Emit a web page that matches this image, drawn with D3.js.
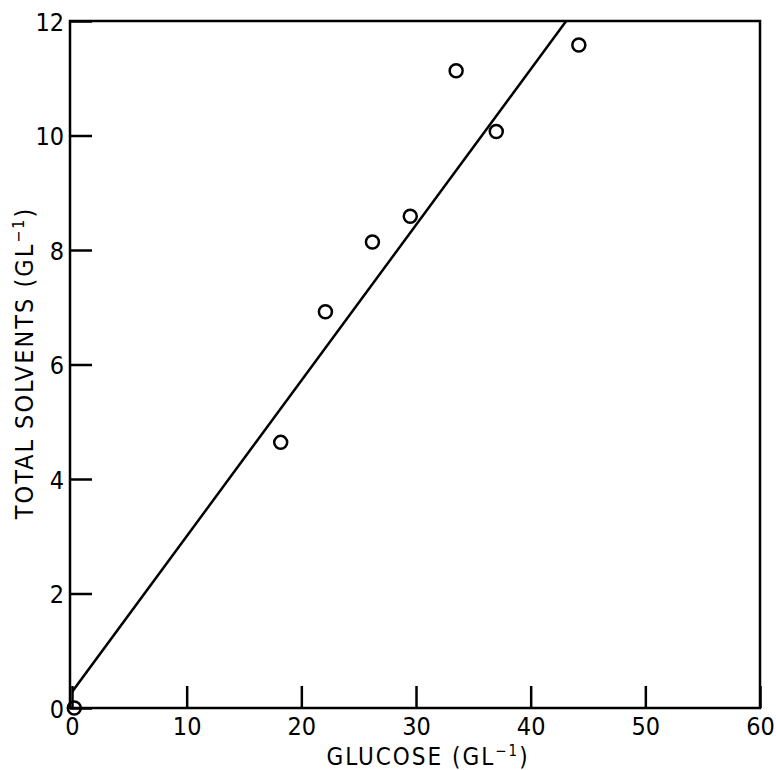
<!DOCTYPE html>
<html>
<head>
<meta charset="utf-8">
<script src="https://cdn.jsdelivr.net/npm/d3@7"></script>
<style>
  body { margin: 0; background: #fff; }
  svg text { font-family: "Liberation Sans Narrow", "DejaVu Sans Condensed", sans-serif; fill: #000; }
</style>
</head>
<body>
<div id="chart"></div>
<script>
// data
let glucose = [0.2, 18.2, 22.1, 26.2, 29.5, 33.5, 37.0, 44.2];
let solvents = [0.0, 4.64, 6.92, 8.14, 8.59, 11.13, 10.07, 11.58];
let fitLine = [[0, 0.28], [43.1, 12]];
let xTicks = [0, 10, 20, 30, 40, 50, 60];
let yTicks = [0, 2, 4, 6, 8, 10, 12];

let width = 776, height = 770;
let mLeft = 72, mRight = 760, mTop = 21, mBottom = 708;

let xScale = d3.scaleLinear().domain([0, 60]).range([mLeft, mRight]);
let yScale = d3.scaleLinear().domain([0, 12]).range([mBottom, mTop]);

let svg = d3.select("#chart")
    .append("svg")
    .attr("width", width)
    .attr("height", height);

// frame
svg.append("rect")
    .attr("x", mLeft - 2)
    .attr("y", mTop)
    .attr("width", mRight - mLeft + 2)
    .attr("height", mBottom - mTop)
    .attr("fill", "none")
    .attr("stroke", "#000")
    .attr("stroke-width", 2.5);

let xAxis = d3.axisBottom(xScale).tickValues(xTicks).tickSize(-22).tickFormat(d3.format("d"));
let yAxis = d3.axisLeft(yScale).tickValues(yTicks).tickSize(-22).tickFormat(d3.format("d"));

let gx = svg.append("g")
    .attr("transform", "translate(0," + mBottom + ")")
    .call(xAxis);
gx.select(".domain").remove();
gx.selectAll("line").attr("stroke-width", 2.5);
gx.selectAll("text")
    .attr("font-size", "25px")
    .attr("dy", "0")
    .attr("y", 27);

let gy = svg.append("g")
    .attr("transform", "translate(" + (mLeft - 2) + ",0)")
    .call(yAxis);
gy.select(".domain").remove();
gy.selectAll("line").attr("stroke-width", 2.5);
gy.selectAll("text")
    .attr("font-size", "25px")
    .attr("x", -6)
    .attr("dy", "0.36em");

// regression line, clipped to frame
svg.append("clipPath").attr("id", "clip")
    .append("rect")
    .attr("x", mLeft).attr("y", mTop)
    .attr("width", mRight - mLeft).attr("height", mBottom - mTop);

svg.append("path")
    .datum(fitLine)
    .attr("clip-path", "url(#clip)")
    .attr("d", d3.line().x(d => xScale(d[0])).y(d => yScale(d[1])))
    .attr("fill", "none")
    .attr("stroke", "#000")
    .attr("stroke-width", 2.5);

svg.selectAll("circle.pt")
    .data(glucose)
    .enter()
    .append("circle")
    .attr("class", "pt")
    .attr("cx", d => xScale(d))
    .attr("cy", (d, i) => yScale(solvents[i]))
    .attr("r", 6.5)
    .attr("fill", "none")
    .attr("stroke", "#000")
    .attr("stroke-width", 2.5);

// axis titles
let xt = svg.append("text")
    .attr("x", 428)
    .attr("y", 765)
    .attr("text-anchor", "middle")
    .attr("font-size", "24px")
    .attr("letter-spacing", "2px");
xt.append("tspan").text("GLUCOSE (GL");
xt.append("tspan").attr("dy", -9).attr("font-size", "15px").text("−1");
xt.append("tspan").attr("dy", 9).text(")");

let yt = svg.append("text")
    .attr("transform", "translate(33,363) rotate(-90)")
    .attr("text-anchor", "middle")
    .attr("font-size", "25px")
    .attr("letter-spacing", "2px");
yt.append("tspan").text("TOTAL  SOLVENTS  (GL");
yt.append("tspan").attr("dy", -9).attr("font-size", "16px").text("−1");
yt.append("tspan").attr("dy", 9).text(")");
</script>
</body>
</html>
